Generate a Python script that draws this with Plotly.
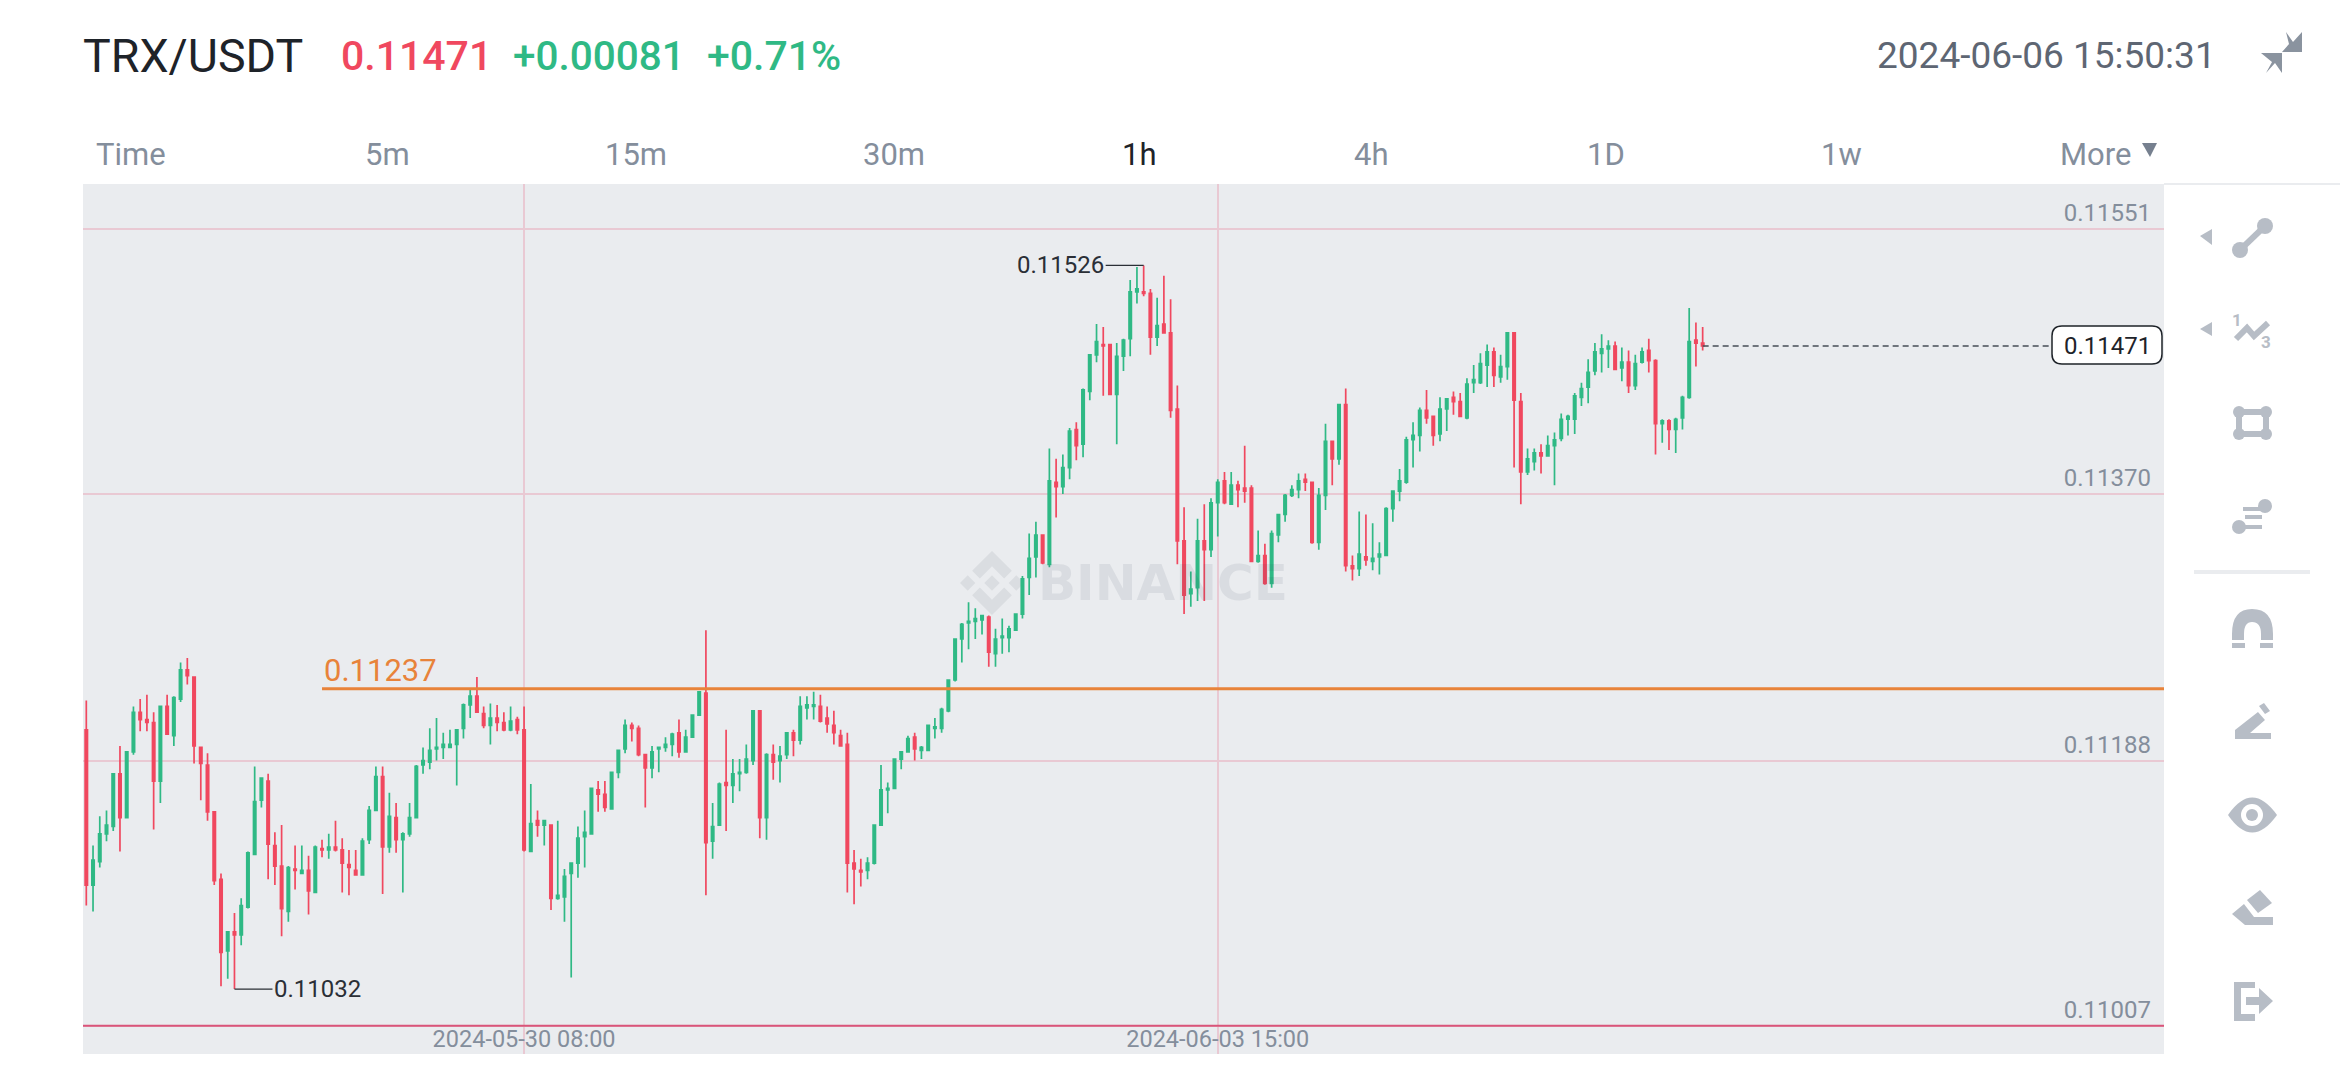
import numpy as np
import pandas as pd
import plotly.graph_objects as go

W, H = 2340, 1080
# plot panel edges in page pixels
LEFT, RIGHT, TOP, BOTTOM = 83, 2164, 184, 1054

# hourly TRX/USDT candles, prices in 1e-5 USDT
first_candle = "2024-05-27 15:00"
opens_pts = [
    11209,11103,11119,11138,11143,11179,11149,11194,11221,11216,
    11214,11174,11225,11205,11230,11250,11245,11197,11185,11153,
    11107,11058,11071,11069,11088,11124,11161,11174,11130,11116,
    11085,11114,11111,11113,11098,11128,11127,11129,11127,11117,
    11113,11110,11134,11154,11177,11129,11149,11134,11138,11149,
    11185,11187,11196,11197,11197,11199,11210,11226,11232,11220,
    11212,11217,11214,11209,11216,11209,11126,11147,11144,11144,
    11094,11095,11111,11118,11136,11138,11168,11165,11155,11180,
    11196,11212,11210,11192,11183,11196,11197,11199,11207,11194,
    11204,11219,11234,11133,11144,11173,11171,11179,11180,11188,
    11222,11149,11192,11188,11192,11207,11202,11224,11225,11225,
    11217,11212,11205,11199,11118,11113,11113,11118,11144,11168,
    11169,11189,11194,11204,11195,11195,11210,11210,11222,11243,
    11271,11282,11283,11284,11286,11261,11272,11272,11277,11288,
    11313,11327,11342,11322,11378,11375,11388,11414,11404,11440,
    11465,11472,11472,11438,11464,11476,11508,11508,11507,11477,
    11486,11480,11428,11338,11302,11306,11338,11332,11364,11379,
    11363,11376,11374,11374,11324,11328,11309,11342,11356,11369,
    11373,11380,11378,11337,11369,11406,11394,11431,11321,11319,
    11327,11324,11327,11328,11360,11372,11378,11407,11410,11427,
    11423,11411,11428,11436,11433,11422,11446,11446,11458,11467,
    11450,11457,11480,11433,11385,11392,11398,11396,11403,11408,
    11421,11421,11436,11443,11454,11466,11469,11471,11456,11460,
    11444,11460,11468,11461,11418,11420,11414,11422,11436,11475,11473,
]
highs_pts = [
    11229,11130,11150,11154,11179,11198,11194,11225,11230,11233,
    11221,11225,11233,11232,11255,11258,11245,11197,11193,11153,
    11111,11071,11084,11094,11126,11184,11176,11179,11139,11144,
    11116,11130,11130,11123,11130,11134,11138,11147,11135,11127,
    11127,11135,11157,11184,11184,11166,11159,11139,11159,11185,
    11197,11210,11217,11207,11209,11209,11227,11237,11245,11225,
    11227,11226,11221,11225,11218,11225,11172,11154,11147,11144,
    11147,11114,11118,11143,11154,11169,11174,11174,11180,11195,
    11216,11214,11212,11192,11198,11197,11204,11207,11216,11209,
    11219,11235,11277,11159,11173,11209,11189,11189,11199,11222,
    11222,11193,11199,11198,11207,11209,11232,11232,11235,11233,
    11225,11222,11209,11207,11127,11121,11122,11144,11185,11173,
    11189,11194,11205,11207,11198,11212,11217,11224,11243,11271,
    11282,11296,11292,11287,11287,11278,11285,11280,11288,11314,
    11343,11351,11342,11401,11394,11397,11415,11419,11442,11465,
    11486,11484,11472,11473,11476,11516,11525,11526,11510,11504,
    11519,11503,11444,11361,11317,11353,11363,11367,11380,11385,
    11385,11379,11403,11376,11345,11336,11345,11356,11370,11376,
    11384,11384,11378,11374,11418,11406,11431,11442,11328,11358,
    11356,11350,11337,11361,11372,11387,11409,11419,11429,11441,
    11423,11436,11435,11440,11439,11449,11458,11466,11472,11470,
    11465,11480,11480,11439,11401,11401,11404,11410,11412,11425,
    11424,11439,11446,11462,11473,11479,11475,11474,11470,11468,
    11465,11470,11476,11462,11421,11421,11422,11437,11497,11487,11484,
]
lows_pts = [
    11089,11085,11115,11133,11140,11126,11149,11192,11208,11208,
    11141,11159,11206,11198,11228,11240,11186,11161,11147,11103,
    11034,11039,11032,11062,11087,11124,11156,11107,11103,11068,
    11078,11100,11111,11083,11098,11122,11121,11126,11098,11096,
    11110,11110,11131,11154,11097,11125,11125,11098,11136,11149,
    11179,11182,11188,11189,11197,11171,11203,11217,11221,11210,
    11199,11208,11208,11208,11206,11126,11126,11136,11130,11086,
    11093,11078,11040,11108,11115,11138,11153,11153,11155,11176,
    11193,11201,11191,11156,11176,11180,11194,11191,11190,11194,
    11204,11219,11096,11121,11144,11140,11159,11167,11179,11185,
    11135,11134,11175,11173,11189,11191,11199,11216,11216,11214,
    11207,11199,11198,11098,11090,11102,11107,11117,11144,11152,
    11169,11182,11194,11188,11189,11195,11203,11207,11221,11242,
    11255,11264,11271,11274,11252,11252,11261,11262,11277,11285,
    11301,11313,11322,11320,11354,11370,11380,11393,11395,11434,
    11460,11437,11438,11404,11454,11464,11500,11505,11465,11471,
    11480,11422,11322,11288,11293,11297,11297,11327,11341,11363,
    11363,11361,11364,11324,11323,11308,11306,11337,11351,11368,
    11367,11372,11336,11332,11359,11376,11390,11317,11311,11314,
    11321,11318,11315,11328,11351,11365,11377,11388,11399,11418,
    11403,11406,11413,11424,11423,11421,11439,11445,11443,11443,
    11446,11448,11388,11363,11383,11386,11384,11396,11376,11406,
    11410,11411,11430,11432,11451,11453,11456,11455,11447,11439,
    11441,11459,11453,11397,11405,11400,11398,11414,11435,11457,11468,
]
closes_pts = [
    11103,11120,11138,11144,11179,11149,11194,11221,11216,11214,
    11174,11225,11206,11231,11250,11246,11198,11186,11153,11106,
    11057,11071,11069,11089,11125,11160,11176,11131,11116,11087,
    11115,11113,11113,11099,11129,11127,11129,11127,11118,11115,
    11110,11133,11154,11177,11129,11150,11134,11138,11149,11184,
    11188,11195,11197,11199,11199,11209,11226,11232,11221,11212,
    11217,11214,11209,11215,11209,11127,11145,11144,11147,11094,
    11096,11109,11118,11135,11139,11169,11165,11156,11180,11195,
    11212,11210,11192,11183,11194,11197,11199,11206,11194,11204,
    11219,11235,11132,11143,11172,11171,11179,11180,11189,11222,
    11149,11192,11187,11191,11207,11202,11225,11226,11226,11215,
    11213,11207,11198,11118,11114,11112,11118,11144,11168,11169,
    11189,11194,11203,11196,11197,11212,11211,11223,11243,11271,
    11281,11283,11285,11287,11262,11271,11273,11278,11288,11312,
    11326,11342,11323,11379,11375,11388,11413,11403,11441,11465,
    11474,11471,11438,11464,11475,11508,11510,11507,11477,11485,
    11480,11427,11338,11301,11305,11338,11332,11364,11378,11364,
    11376,11373,11372,11324,11328,11309,11343,11356,11369,11373,
    11379,11378,11337,11369,11406,11394,11431,11321,11319,11329,
    11325,11326,11329,11360,11372,11379,11407,11410,11427,11422,
    11410,11428,11435,11433,11423,11445,11448,11459,11467,11451,
    11457,11480,11434,11385,11394,11398,11396,11403,11407,11421,
    11423,11437,11442,11453,11467,11469,11471,11455,11460,11444,
    11459,11467,11461,11418,11420,11414,11421,11436,11474,11473,11471,
]
price_ticks = [0.11007, 0.11188, 0.11370, 0.11551]
time_ticks = ["2024-05-30 08:00", "2024-06-03 15:00"]
intervals = ["Time", "5m", "15m", "30m", "1h", "4h", "1D", "1w", "More"]
interval_x = [131, 387, 636, 894, 1139, 1371, 1606, 1841, 2095]
level_price = 0.11237
last_price = 0.11471
high_price = 0.11526
low_price = 0.11032

RED = "#F0485F"
GREEN = "#2FB985"
PANEL = "#EAECEF"
GRID = "#E9C9D3"
ICON = "#B7BDC6"
MUTED = "#848E9C"
DARK = "#1E2329"
ORANGE = "#E8833A"
FONT = "Roboto"

times = pd.date_range(first_candle, periods=len(opens_pts), freq="h")
hour = pd.Timedelta(hours=1)


# paper coordinates are relative to the plot panel, not the page
def fx(x):
    return (x - LEFT) / (RIGHT - LEFT)


def fy(y):
    return 1 - (y - TOP) / (BOTTOM - TOP)


def poly(points, color=ICON, layer="above"):
    path = "M " + " L ".join(f"{fx(x):.5f},{fy(y):.5f}" for x, y in points) + " Z"
    return dict(type="path", xref="paper", yref="paper", path=path, fillcolor=color,
                line_width=0, layer=layer)


def stroke(points, color=ICON, width=5, dash="solid"):
    path = "M " + " L ".join(f"{fx(x):.5f},{fy(y):.5f}" for x, y in points)
    return dict(type="path", xref="paper", yref="paper", path=path,
                line=dict(color=color, width=width, dash=dash))


def dot(x, y, r, color=ICON):
    return dict(type="circle", xref="paper", yref="paper", x0=fx(x - r), x1=fx(x + r),
                y0=fy(y + r), y1=fy(y - r), fillcolor=color, line_width=0)


def label(text, x, y, size, color, anchor="left", weight=400, family=FONT):
    return dict(text=text, x=fx(x), y=fy(y), xref="paper", yref="paper", xanchor=anchor,
                yanchor="middle", showarrow=False,
                font=dict(family=family, size=size, color=color, weight=weight))


fig = go.Figure()

fig.add_trace(go.Candlestick(
    x=times,
    open=np.array(opens_pts) / 1e5,
    high=np.array(highs_pts) / 1e5,
    low=np.array(lows_pts) / 1e5,
    close=np.array(closes_pts) / 1e5,
    increasing=dict(line=dict(color=GREEN, width=1.7), fillcolor=GREEN),
    decreasing=dict(line=dict(color=RED, width=1.7), fillcolor=RED),
    whiskerwidth=0,
    showlegend=False,
))

shapes = []

# price level drawn on the chart, starts at candle 35
shapes.append(dict(type="line", xref="x", yref="y", x0=times[35], x1=times[0] + 308.5 * hour,
                   y0=level_price, y1=level_price, line=dict(color=ORANGE, width=3)))
# lowest tick line is darker
shapes.append(dict(type="line", xref="x domain", yref="y", x0=0, x1=1,
                   y0=price_ticks[0], y1=price_ticks[0], line=dict(color="#D9547A", width=2)))
# last price, dashed out to the label
shapes.append(dict(type="line", xref="x", yref="y", x0=times[-1], x1=times[0] + 291.8 * hour,
                   y0=last_price, y1=last_price, line=dict(color="#474D57", width=1.5, dash="6px,4px")))

# last price box with rounded corners
bx0, bx1, by0, by1, rad = 2052, 2162, 326, 364, 10
shapes.append(dict(
    type="path", xref="paper", yref="paper",
    path=(f"M {fx(bx0 + rad)},{fy(by0)} L {fx(bx1 - rad)},{fy(by0)} "
          f"Q {fx(bx1)},{fy(by0)} {fx(bx1)},{fy(by0 + rad)} L {fx(bx1)},{fy(by1 - rad)} "
          f"Q {fx(bx1)},{fy(by1)} {fx(bx1 - rad)},{fy(by1)} L {fx(bx0 + rad)},{fy(by1)} "
          f"Q {fx(bx0)},{fy(by1)} {fx(bx0)},{fy(by1 - rad)} L {fx(bx0)},{fy(by0 + rad)} "
          f"Q {fx(bx0)},{fy(by0)} {fx(bx0 + rad)},{fy(by0)} Z"),
    fillcolor="white", line=dict(color=DARK, width=1.5)))

# watermark logo
wx, wy, ws = 992, 583, 32
wm = "#DADDE1"
for pts in [
    [(0, -1), (.62, -.38), (.38, -.14), (0, -.52), (-.38, -.14), (-.62, -.38)],
    [(0, 1), (.62, .38), (.38, .14), (0, .52), (-.38, .14), (-.62, .38)],
    [(0, -.24), (.24, 0), (0, .24), (-.24, 0)],
    [(-1, 0), (-.76, -.24), (-.52, 0), (-.76, .24)],
    [(1, 0), (.76, -.24), (.52, 0), (.76, .24)],
]:
    shapes.append(poly([(wx + a * ws, wy + b * ws) for a, b in pts], wm, layer="below"))

# header bits
shapes.append(stroke([(2164, 184), (2340, 184)], PANEL, 2))
shapes.append(poly([(2142, 143), (2157, 143), (2150, 157)], "#76808F"))
shapes.append(poly([(2286, 32), (2293, 42), (2302, 32), (2302, 52), (2282, 52), (2289, 44)], "#8A939F"))
shapes.append(poly([(2261, 53), (2282, 53), (2282, 73), (2275, 63), (2266, 73), (2272, 62)], "#8A939F"))

# toolbar, first the line tools
shapes += [poly([(2200, 236), (2212, 229), (2212, 245)]), poly([(2200, 329), (2212, 322), (2212, 336)])]
shapes += [stroke([(2240, 250), (2265, 226)], ICON, 6), dot(2240, 250, 8), dot(2265, 226, 8)]
shapes.append(stroke([(2236, 339), (2247, 328), (2254, 336), (2268, 323)], ICON, 6))
shapes += [dot(2239, 412, 6), dot(2266, 412, 6), dot(2239, 434, 6), dot(2266, 434, 6)]
shapes.append(stroke([(2239, 412), (2266, 412), (2266, 434), (2239, 434), (2239, 412)], ICON, 6))
shapes += [dot(2265, 506, 7), dot(2239, 527, 7)]
shapes += [stroke([(2243, 509), (2264, 509)], ICON, 4), stroke([(2245, 517), (2262, 517)], ICON, 4),
           stroke([(2239, 527), (2262, 527)], ICON, 4)]
shapes.append(stroke([(2194, 572), (2310, 572)], PANEL, 4))
# magnet
shapes.append(dict(type="path", xref="paper", yref="paper", fillcolor=ICON, line_width=0,
                   path=(f"M {fx(2232)},{fy(634)} Q {fx(2232)},{fy(609)} {fx(2252)},{fy(609)} "
                         f"Q {fx(2273)},{fy(609)} {fx(2273)},{fy(634)} L {fx(2273)},{fy(640)} "
                         f"L {fx(2261)},{fy(640)} L {fx(2261)},{fy(634)} "
                         f"Q {fx(2261)},{fy(622)} {fx(2252)},{fy(622)} "
                         f"Q {fx(2244)},{fy(622)} {fx(2244)},{fy(634)} L {fx(2244)},{fy(640)} "
                         f"L {fx(2232)},{fy(640)} Z")))
shapes += [poly([(2232, 643), (2245, 643), (2245, 648), (2232, 648)]),
           poly([(2260, 643), (2273, 643), (2273, 648), (2260, 648)])]
# pencil
shapes += [poly([(2235, 730), (2258, 712), (2265, 720), (2250, 733), (2271, 733), (2271, 739), (2235, 739)]),
           poly([(2259, 706), (2264, 703), (2270, 711), (2265, 714)])]
# eye
shapes.append(dict(type="path", xref="paper", yref="paper", fillcolor=ICON, line_width=0,
                   path=(f"M {fx(2228)},{fy(815)} Q {fx(2252)},{fy(780)} {fx(2277)},{fy(815)} "
                         f"Q {fx(2252)},{fy(850)} {fx(2228)},{fy(815)} Z")))
shapes += [dot(2252, 815, 11, "white"), dot(2252, 815, 6)]
# eraser
shapes += [poly([(2247, 900), (2260, 890), (2272, 903), (2258, 913)]),
           poly([(2232, 914), (2244, 904), (2254, 917), (2273, 917), (2273, 925), (2245, 925)])]
# exit
shapes += [poly([(2234, 982), (2255, 982), (2255, 988), (2241, 988), (2241, 1014), (2255, 1014),
                 (2255, 1021), (2234, 1021)]),
           poly([(2246, 997), (2259, 997), (2259, 988), (2273, 1001), (2259, 1014), (2259, 1005), (2246, 1005)])]

annotations = [
    label("TRX/USDT", 81, 56, 46.5, DARK),
    label("0.11471", 339, 56, 41, RED, weight=500),
    label("+0.00081", 511, 56, 40.5, GREEN, weight=500),
    label("+0.71%", 705, 56, 41, GREEN, weight=500),
    label("2024-06-06 15:50:31", 2218, 55, 37, "#5E6673", anchor="right"),
    label("0.11471", 2107, 346, 24, DARK, anchor="center"),
    label("1", 2237, 320, 17, ICON, anchor="center", weight=700),
    label("3", 2266, 342, 17, ICON, anchor="center", weight=700),
    label("BINANCE", 1163, 583, 50, "rgba(60,70,90,0.09)", anchor="center", weight=700, family="DejaVu Sans"),
    # level tag sits on the orange line, left end
    dict(text=f"{level_price:.5f}", x=times[35], y=level_price, xref="x", yref="y", xanchor="left",
         yanchor="bottom", yshift=-2, showarrow=False, font=dict(family=FONT, size=31, color=ORANGE)),
    # highest / lowest markers
    dict(text=f"{high_price:.5f}", x=times[157], y=high_price, xref="x", yref="y", showarrow=True,
         arrowhead=0, arrowwidth=1.2, arrowcolor="#2B2F36", ax=-38, ay=0, xanchor="right", yanchor="middle",
         font=dict(family=FONT, size=24, color="#2B2F36")),
    dict(text=f"{low_price:.5f}", x=times[22], y=low_price, xref="x", yref="y", showarrow=True,
         arrowhead=0, arrowwidth=1.2, arrowcolor="#2B2F36", ax=38, ay=0, xanchor="left", yanchor="middle",
         font=dict(family=FONT, size=24, color="#2B2F36")),
]
for name, cx in zip(intervals, interval_x):
    annotations.append(label(name, cx, 155, 31, DARK if name == "1h" else MUTED, anchor="center"))

fig.update_layout(
    width=W, height=H,
    margin=dict(l=LEFT, r=W - RIGHT, t=TOP, b=H - BOTTOM),
    paper_bgcolor="white",
    plot_bgcolor=PANEL,
    showlegend=False,
    boxgap=0.5,
    shapes=shapes,
    annotations=annotations,
    xaxis=dict(
        type="date",
        rangeslider_visible=False,
        range=[times[0] - 0.49 * hour, times[0] + 308.5 * hour],
        tickvals=time_ticks,
        tickformat="%Y-%m-%d %H:%M",
        # pulled back up into the panel, "inside" would hide the lowest price label
        ticklabelstandoff=-32,
        showgrid=True, gridcolor=GRID, gridwidth=1.5,
        zeroline=False, showline=False, ticks="",
        tickfont=dict(family=FONT, size=23.5, color=MUTED),
    ),
    yaxis=dict(
        side="right",
        range=[0.109877, 0.115816],
        tickvals=price_ticks,
        tickformat=".5f",
        ticklabelposition="inside",
        ticklabelstandoff=10,
        ticklabelshift=-16,
        showgrid=True, gridcolor=GRID, gridwidth=1.5,
        zeroline=False, showline=False, ticks="",
        tickfont=dict(family=FONT, size=24, color=MUTED),
    ),
)

fig.write_html("out.html", config=dict(displayModeBar=False), post_script="document.body.style.margin='0';")
